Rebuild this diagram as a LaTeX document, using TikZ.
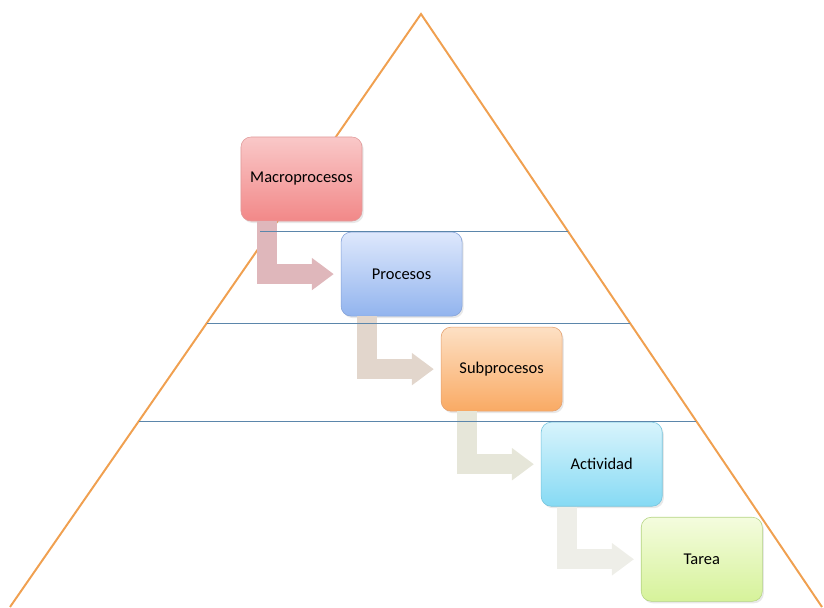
\documentclass[tikz,border=0pt]{standalone}
\usepackage{fontspec}
\setmainfont{Carlito}
\usetikzlibrary{arrows.meta, positioning, shadows}

\definecolor{pyrorange}{HTML}{F0A050}
\definecolor{levelblue}{HTML}{5B86AB}
\definecolor{redline}{HTML}{E09A9A}
\definecolor{redtop}{HTML}{F9C8C8}
\definecolor{redbot}{HTML}{F28888}
\definecolor{blueline}{HTML}{82A0D7}
\definecolor{bluetop}{HTML}{DEE8FC}
\definecolor{bluebot}{HTML}{92B4EE}
\definecolor{orangeline}{HTML}{E4A06E}
\definecolor{orangetop}{HTML}{FDE0C4}
\definecolor{orangebot}{HTML}{F9AA64}
\definecolor{cyanline}{HTML}{73C3DC}
\definecolor{cyantop}{HTML}{D8F4FC}
\definecolor{cyanbot}{HTML}{86DAF4}
\definecolor{greenline}{HTML}{B4D482}
\definecolor{greentop}{HTML}{F4FCDE}
\definecolor{greenbot}{HTML}{D6F29A}
\definecolor{flowred}{HTML}{DFB7BB}
\definecolor{flowtan}{HTML}{E2D6CC}
\definecolor{flowkhaki}{HTML}{E6E6D9}
\definecolor{flowgrey}{HTML}{EEEEE8}

\begin{document}
\begin{tikzpicture}[
  x=0.025cm, y=-0.025cm,
  node distance=0.262cm and -0.538cm,
  box/.style={rectangle, draw, rounded corners=0.25cm, minimum width=3.025cm, minimum height=2.1cm, align=center, font=\fontsize{11.7}{14}\selectfont, drop shadow={opacity=0.18, shadow xshift=0.04cm, shadow yshift=-0.05cm}},
  flow/.style={line width=0.5cm, -{Triangle[length=0.55cm, width=0.775cm]}, shorten >=0.175cm},
  side/.style={pyrorange, line width=1.4pt},
  level/.style={levelblue, line width=0.6pt}
]
  \useasboundingbox (0,0) rectangle (824,607);

  % pyramid
  \coordinate (apex) at (421,14);
  \coordinate (baseL) at (10,607);
  \coordinate (baseR) at (822,607);
  \draw[side] (baseL) -- (apex) -- (baseR);

  \node[box, draw=redline, top color=redtop, bottom color=redbot] (mac) at (301.5,179) {Macroprocesos};
  \node[box, below right=of mac, draw=blueline, top color=bluetop, bottom color=bluebot] (pro) {Procesos};
  \node[box, below right=of pro, draw=orangeline, top color=orangetop, bottom color=orangebot] (sub) {Subprocesos};
  \node[box, below right=of sub, draw=cyanline, top color=cyantop, bottom color=cyanbot] (act) {Actividad};
  \node[box, below right=of act, draw=greenline, top color=greentop, bottom color=greenbot] (tar) {Tarea};

  \draw[flow, flowred] ([shift={(26,0)}]mac.south west) |- (pro.west);
  \draw[flow, flowtan] ([shift={(26,0)}]pro.south west) |- (sub.west);
  \draw[flow, flowkhaki] ([shift={(26,0)}]sub.south west) |- (act.west);
  \draw[flow, flowgrey] ([shift={(26,0)}]act.south west) |- (tar.west);

  % levels
  \draw[level] (260,231) -- (568,231);
  \draw[level] (207,323) -- (630,323);
  \draw[level] (139,421) -- (696,421);
\end{tikzpicture}
\end{document}
